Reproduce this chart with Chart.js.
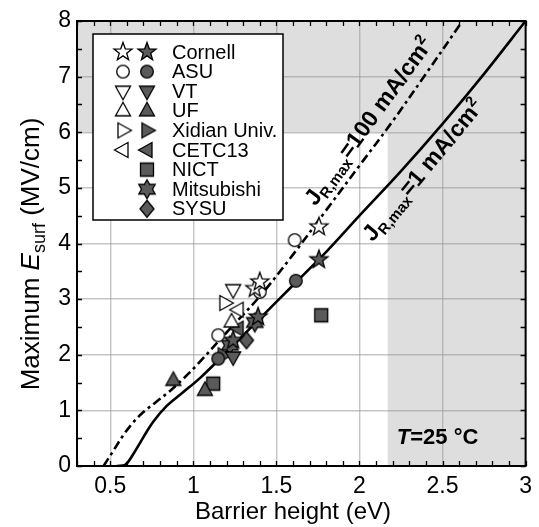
<!DOCTYPE html>
<html lang="en">
<head>
<meta charset="UTF-8">
<title>Esurf x barrier height</title>
<script src="https://cdn.jsdelivr.net/npm/chart.js"></script>
<style>
  body { margin: 0; background: #fff; }
</style>
</head>
<body>
<canvas id="grafico" width="539" height="527"></canvas>
<script>
// curva J_R,max = 1 mA/cm2 (linha cheia)
const x1mA = [0.54, 0.59, 0.64, 0.70, 0.76, 0.84, 0.94, 1.04, 1.2, 1.4, 1.6, 1.8, 2.0, 2.25, 2.5, 2.75, 3.0];
const y1mA = [0, 0.02, 0.22, 0.52, 0.80, 1.08, 1.33, 1.58, 2.05, 2.65, 3.25, 3.85, 4.5, 5.3, 6.15, 7.05, 8.0];
// curva J_R,max = 100 mA/cm2 (traco-ponto)
const x100mA = [0.46, 0.52, 0.58, 0.64, 0.70, 0.78, 0.86, 0.94, 1.02, 1.2, 1.4, 1.6, 1.8, 2.0, 2.2, 2.4, 2.62];
const y100mA = [0, 0.28, 0.56, 0.79, 0.97, 1.16, 1.35, 1.57, 1.81, 2.4, 3.05, 3.8, 4.6, 5.4, 6.2, 7.05, 8.0];

// pontos abertos / cheios de cada grupo
const cornellAbertoX = [1.37, 1.40, 1.756], cornellAbertoY = [3.19, 3.31, 4.30];
const cornellCheioX = [1.24, 1.39, 1.756], cornellCheioY = [2.26, 2.68, 3.71];
const asuAbertoX = [1.15, 1.40, 1.61], asuAbertoY = [2.35, 3.13, 4.06];
const asuCheioX = [1.15, 1.617], asuCheioY = [1.93, 3.33];
const vtAbertoX = [1.24], vtAbertoY = [3.17];
const vtCheioX = [1.24], vtCheioY = [1.96];
const ufAbertoX = [1.23], ufAbertoY = [2.59];
const ufCheioX = [0.88, 1.07], ufCheioY = [1.54, 1.36];
const xidianAbertoX = [1.19], xidianAbertoY = [2.93];
const xidianCheioX = [1.18], xidianCheioY = [1.99];
const cetcAbertoX = [1.27], cetcAbertoY = [2.81];
const cetcCheioX = [1.27], cetcCheioY = [2.47];
const nictX = [1.12, 1.77], nictY = [1.48, 2.71];
const mitsubishiX = [1.22, 1.37], mitsubishiY = [2.17, 2.58];
const sysuX = [1.32], sysuY = [2.26];

const instituicoes = ['Cornell', 'ASU', 'VT', 'UF', 'Xidian Univ.', 'CETC13', 'NICT', 'Mitsubishi', 'SYSU'];
const xTicks = [0.5, 1, 1.5, 2, 2.5, 3];
const yTicks = [0, 1, 2, 3, 4, 5, 6, 7, 8];

const FONTE = '"Liberation Sans", Arial, sans-serif';
const CINZA_GRID = 'rgba(150,150,150,0.55)';
const CINZA_FUNDO = '#dedede';
const CHEIO = '#5a5a5a';

function icone(forma, cheio) {
    const s = 26;
    const c = document.createElement('canvas');
    c.width = s; c.height = s;
    const g = c.getContext('2d');
    g.translate(s / 2, s / 2);
    g.beginPath();
    function estrela(n, R, r) {
        for (let i = 0; i < 2 * n; i++) {
            const a = -Math.PI / 2 + i * Math.PI / n;
            const rr = i % 2 ? r : R;
            g.lineTo(Math.cos(a) * rr, Math.sin(a) * rr);
        }
    }
    if (forma == 'circle') g.arc(0, 0, 6.3, 0, 2 * Math.PI);
    if (forma == 'star') estrela(5, 9.5, 3.9);
    if (forma == 'hexa') estrela(6, 9.5, 5.5);
    if (forma == 'up') { g.moveTo(0, -8.5); g.lineTo(7.5, 5); g.lineTo(-7.5, 5); }
    if (forma == 'down') { g.moveTo(0, 8.5); g.lineTo(7.5, -5); g.lineTo(-7.5, -5); }
    if (forma == 'right') { g.moveTo(8.5, 0); g.lineTo(-5, -7.5); g.lineTo(-5, 7.5); }
    if (forma == 'left') { g.moveTo(-8.5, 0); g.lineTo(5, -7.5); g.lineTo(5, 7.5); }
    if (forma == 'square') g.rect(-6.5, -6.5, 13, 13);
    if (forma == 'diamond') { g.moveTo(0, -8.5); g.lineTo(7, 0); g.lineTo(0, 8.5); g.lineTo(-7, 0); }
    g.closePath();
    g.fillStyle = cheio ? CHEIO : '#fff';
    g.fill();
    g.lineWidth = 1.3;
    g.strokeStyle = '#000';
    g.stroke();
    return c;
}

const formas = ['star', 'circle', 'down', 'up', 'right', 'left', 'square', 'hexa', 'diamond'];
const temAberto = [true, true, true, true, true, true, false, false, false];

function pontos(xs, ys) {
    return xs.map((x, i) => ({ x: x, y: ys[i] }));
}

function serie(nome, xs, ys, forma, cheio) {
    return {
        label: nome,
        data: pontos(xs, ys),
        pointStyle: icone(forma, cheio),
        pointRadius: 9,
        showLine: false,
        order: 1
    };
}

const datasets = [
    serie('Cornell aberto', cornellAbertoX, cornellAbertoY, 'star', false),
    serie('ASU aberto', asuAbertoX, asuAbertoY, 'circle', false),
    serie('VT aberto', vtAbertoX, vtAbertoY, 'down', false),
    serie('UF aberto', ufAbertoX, ufAbertoY, 'up', false),
    serie('Xidian aberto', xidianAbertoX, xidianAbertoY, 'right', false),
    serie('CETC13 aberto', cetcAbertoX, cetcAbertoY, 'left', false),
    serie('Cornell', cornellCheioX, cornellCheioY, 'star', true),
    serie('ASU', asuCheioX, asuCheioY, 'circle', true),
    serie('VT', vtCheioX, vtCheioY, 'down', true),
    serie('UF', ufCheioX, ufCheioY, 'up', true),
    serie('Xidian', xidianCheioX, xidianCheioY, 'right', true),
    serie('CETC13', cetcCheioX, cetcCheioY, 'left', true),
    serie('NICT', nictX, nictY, 'square', true),
    serie('Mitsubishi', mitsubishiX, mitsubishiY, 'hexa', true),
    serie('SYSU', sysuX, sysuY, 'diamond', true),
    {
        label: '100 mA/cm2',
        data: pontos(x100mA, y100mA),
        showLine: true,
        pointRadius: 0,
        borderColor: '#000',
        borderWidth: 2.6,
        borderDash: [9, 4, 3, 4],
        tension: 0.35,
        order: 5
    },
    {
        label: '1 mA/cm2',
        data: pontos(x1mA, y1mA),
        showLine: true,
        pointRadius: 0,
        borderColor: '#000',
        borderWidth: 2.6,
        tension: 0.35,
        order: 5
    }
];

// texto com pedacos (subscrito, sobrescrito, italico)
function textoComposto(ctx, partes, x, y) {
    let cx = x;
    partes.forEach(p => {
        ctx.font = p.f;
        ctx.fillText(p.t, cx, y + (p.dy || 0));
        cx += ctx.measureText(p.t).width;
    });
    return cx - x;
}
function larguraComposto(ctx, partes) {
    let w = 0;
    partes.forEach(p => { ctx.font = p.f; w += ctx.measureText(p.t).width; });
    return w;
}

const extras = {
    id: 'extras',
    beforeDraw(chart) {
        const ctx = chart.ctx, a = chart.chartArea;
        const sx = chart.scales.x, sy = chart.scales.y;
        ctx.save();
        ctx.fillStyle = CINZA_FUNDO;
        const y6 = sy.getPixelForValue(6);
        ctx.fillRect(a.left, a.top, a.right - a.left, y6 - a.top);
        const x22 = sx.getPixelForValue(2.17);
        ctx.fillRect(x22, y6, a.right - x22, a.bottom - y6);
        ctx.restore();
    },
    afterDatasetsDraw(chart) {
        const ctx = chart.ctx, a = chart.chartArea;
        const sx = chart.scales.x, sy = chart.scales.y;
        ctx.save();
        // ticks para dentro
        ctx.strokeStyle = '#000';
        ctx.lineWidth = 1.3;
        ctx.beginPath();
        for (let k = 3; k <= 30; k++) {
            const px = Math.round(sx.getPixelForValue(k / 10)) + 0.5;
            ctx.moveTo(px, a.bottom); ctx.lineTo(px, a.bottom - 5);
            ctx.moveTo(px, a.top); ctx.lineTo(px, a.top + 5);
        }
        for (let k = 0; k <= 16; k++) {
            const py = Math.round(sy.getPixelForValue(k / 2)) + 0.5;
            ctx.moveTo(a.left, py); ctx.lineTo(a.left + 5, py);
            ctx.moveTo(a.right, py); ctx.lineTo(a.right - 5, py);
        }
        ctx.stroke();
        ctx.lineWidth = 2;
        ctx.strokeRect(a.left, a.top, a.right - a.left, a.bottom - a.top);

        // legenda
        const lx = a.left + 16, ly = a.top + 13, lw = 190, lh = 186;
        ctx.fillStyle = '#fff';
        ctx.fillRect(lx, ly, lw, lh);
        ctx.lineWidth = 1.5;
        ctx.strokeRect(lx, ly, lw, lh);
        ctx.fillStyle = '#000';
        ctx.textBaseline = 'middle';
        instituicoes.forEach((nome, i) => {
            const yy = ly + 18 + i * 19.6;
            if (temAberto[i]) {
                const ic = icone(formas[i], false);
                ctx.drawImage(ic, lx + 30 - ic.width / 2, yy - ic.height / 2);
            }
            const ic2 = icone(formas[i], true);
            ctx.drawImage(ic2, lx + 54 - ic2.width / 2, yy - ic2.height / 2);
            ctx.font = '20px ' + FONTE;
            ctx.fillText(nome, lx + 79, yy + 1);
        });

        // rotulos das curvas
        ctx.textBaseline = 'alphabetic';
        const b = 'bold 23px ' + FONTE, bs = 'bold 15px ' + FONTE;
        const rot100 = [{ t: 'J', f: b }, { t: 'R,max', f: bs, dy: 5 }, { t: '=100 mA/cm', f: b }, { t: '2', f: bs, dy: -9 }];
        const rot1 = [{ t: 'J', f: b }, { t: 'R,max', f: bs, dy: 5 }, { t: '=1 mA/cm', f: b }, { t: '2', f: bs, dy: -9 }];
        ctx.save();
        ctx.translate(sx.getPixelForValue(1.735), sy.getPixelForValue(4.66));
        ctx.rotate(-54 * Math.PI / 180);
        textoComposto(ctx, rot100, 0, 0);
        ctx.restore();
        ctx.save();
        ctx.translate(sx.getPixelForValue(2.08), sy.getPixelForValue(4.02));
        ctx.rotate(-50.5 * Math.PI / 180);
        textoComposto(ctx, rot1, 0, 0);
        ctx.restore();

        // T = 25 C
        const tt = [{ t: 'T', f: 'italic bold 22px ' + FONTE }, { t: '=25 °C', f: 'bold 22px ' + FONTE }];
        const wt = larguraComposto(ctx, tt);
        textoComposto(ctx, tt, sx.getPixelForValue(2.47) - wt / 2, sy.getPixelForValue(0.4));

        // titulos dos eixos
        ctx.font = '24px ' + FONTE;
        ctx.textAlign = 'center';
        ctx.fillText('Barrier height (eV)', 293, 519);
        ctx.textAlign = 'left';
        const ty = [{ t: 'Maximum ', f: '26px ' + FONTE }, { t: 'E', f: 'italic 26px ' + FONTE },
                    { t: 'surf', f: '18px ' + FONTE, dy: 6 }, { t: ' (MV/cm)', f: '26px ' + FONTE }];
        const wy = larguraComposto(ctx, ty);
        ctx.save();
        ctx.translate(39, 254);
        ctx.rotate(-Math.PI / 2);
        textoComposto(ctx, ty, -wy / 2, 0);
        ctx.restore();
        ctx.restore();
    }
};

new Chart(document.getElementById('grafico'), {
    type: 'scatter',
    data: { datasets: datasets },
    options: {
        responsive: false,
        animation: false,
        events: [],
        layout: { padding: { left: 40, right: 12, top: 21, bottom: 0 } },
        plugins: { legend: { display: false }, tooltip: { enabled: false } },
        scales: {
            x: {
                type: 'linear', min: 0.3, max: 3,
                afterBuildTicks: s => { s.ticks = xTicks.map(v => ({ value: v })); },
                afterFit: s => { s.height = 61; },
                ticks: { font: { family: FONTE, size: 23 }, color: '#000', padding: 7, maxRotation: 0, autoSkip: false,
                         callback: v => String(v) },
                grid: { color: CINZA_GRID, lineWidth: 1.4, drawTicks: false },
                border: { display: false }
            },
            y: {
                type: 'linear', min: 0, max: 8,
                afterBuildTicks: s => { s.ticks = yTicks.map(v => ({ value: v })); },
                afterFit: s => { s.width = 37; },
                ticks: { font: { family: FONTE, size: 23 }, color: '#000', padding: 6, autoSkip: false,
                         callback: v => String(v) },
                grid: { color: CINZA_GRID, lineWidth: 1.4, drawTicks: false },
                border: { display: false }
            }
        }
    },
    plugins: [extras]
});
</script>
</body>
</html>
